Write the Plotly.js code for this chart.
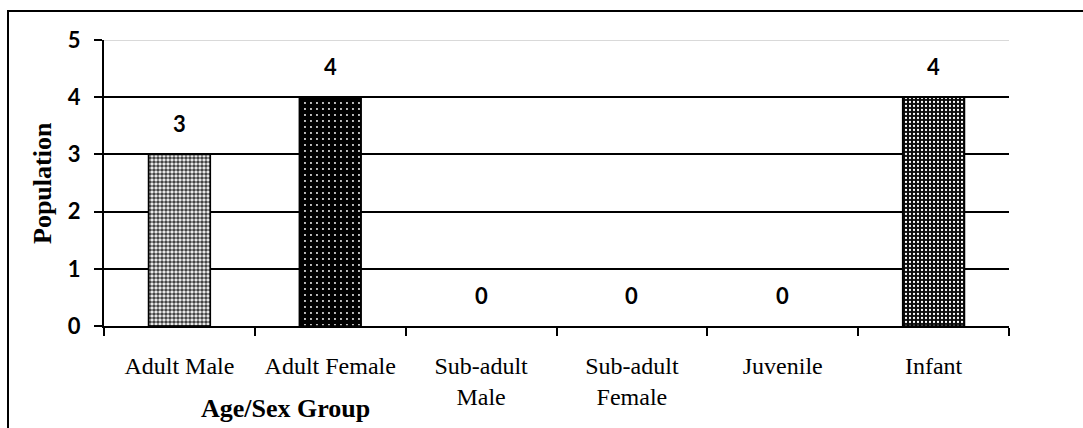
<!DOCTYPE html>
<html>
<head>
<meta charset="utf-8">
<script src="https://cdn.plot.ly/plotly-3.0.1.min.js"></script>
<style>
  html, body { margin: 0; padding: 0; background: #fff; }
  #wrap { position: relative; width: 1083px; height: 428px; overflow: hidden; }
  #frame { position: absolute; left: 7px; top: 10px; width: 1200px; height: 600px;
           border-left: 2.5px solid #000; border-top: 2.5px solid #000; pointer-events: none; }
  #chart { position: absolute; left: 0; top: 0; width: 1083px; height: 428px; }
</style>
</head>
<body>
<div id="wrap">
  <div id="chart"></div>
  <div id="frame"></div>
</div>
<script>
// Population counts by age/sex group
const groups = ['Adult Male', 'Adult Female', 'Sub-adult<br>Male', 'Sub-adult<br>Female', 'Juvenile', 'Infant'];
const population = [3, 4, 0, 0, 0, 4];
const yTicks = [0, 1, 2, 3, 4, 5];

// bar fills: base colour plus a small dot pattern on top
const barBase = ['#ffffff', '#000000', '#ffffff', '#ffffff', '#ffffff', '#0a0a0a'];
const patternShapes = ['.', '.', '', '', '', '.'];
const patternFg = ['#000000', '#e8e8e8', '#000000', '#000000', '#000000', '#9a9a9a'];
const patternSize = [4, 6, 4, 4, 4, 4];
const patternSolidity = [0.65, 0.08, 0.3, 0.3, 0.3, 0.25];
const outlineWidth = population.map(v => (v > 0 ? 1.5 : 0));

const trace = {
  type: 'bar',
  x: groups,
  y: population,
  width: 0.41,
  marker: {
    color: barBase,
    opacity: 1,
    line: { color: '#000', width: outlineWidth },
    pattern: {
      shape: patternShapes,
      fgcolor: patternFg,
      fgopacity: 1,
      size: patternSize,
      solidity: patternSolidity,
      fillmode: 'overlay'
    }
  },
  hoverinfo: 'skip'
};

// value labels above each bar
const valueLabels = groups.map((g, i) => ({
  x: g, y: population[i], xref: 'x', yref: 'y',
  text: '<b>' + population[i] + '</b>',
  showarrow: false, yanchor: 'bottom', yshift: 15,
  font: { family: 'Lato, "Open Sans", sans-serif', size: 22, color: '#000' }
}));

const layout = {
  width: 1083, height: 428,
  margin: { l: 104, r: 74, t: 40, b: 102 },
  paper_bgcolor: 'rgba(0,0,0,0)',
  plot_bgcolor: '#fff',
  showlegend: false,
  xaxis: {
    type: 'category',
    showline: true, linecolor: '#000', linewidth: 2,
    ticks: 'outside', tickson: 'boundaries', ticklen: 8, tickwidth: 2, tickcolor: '#000',
    tickfont: { family: '"Liberation Serif", "Times New Roman", serif', size: 24, color: '#000' },
    ticklabelstandoff: 17,
    showgrid: false, zeroline: false, fixedrange: true
  },
  yaxis: {
    range: [0, 5],
    tickvals: yTicks,
    showline: true, linecolor: '#000', linewidth: 2,
    ticks: 'outside', ticklen: 8, tickwidth: 2, tickcolor: '#000',
    tickfont: { family: 'Lato, "Open Sans", sans-serif', size: 22, color: '#000', weight: 'bold' },
    ticklabelstandoff: 9,
    showgrid: true, gridcolor: '#000', gridwidth: 2,
    zeroline: false, fixedrange: true
  },
  shapes: [
    { type: 'line', xref: 'paper', yref: 'y', x0: 0, x1: 1, y0: 5, y1: 5,
      line: { color: '#d9d9d9', width: 2 }, layer: 'above' }
  ],
  annotations: valueLabels.concat([
    { text: '<b>Age/Sex Group</b>', xref: 'paper', yref: 'paper', x: 0, y: 0,
      xanchor: 'center', yanchor: 'middle', showarrow: false,
      xshift: 181, yshift: -82,
      font: { family: '"Liberation Serif", "Times New Roman", serif', size: 26, color: '#000' } },
    { text: '<b>Population</b>', xref: 'paper', yref: 'paper', x: 0, y: 0.5,
      xanchor: 'center', yanchor: 'middle', showarrow: false, textangle: -90,
      xshift: -62, yshift: 0,
      font: { family: '"Liberation Serif", "Times New Roman", serif', size: 26, color: '#000' } }
  ])
};

Plotly.newPlot('chart', [trace], layout, { displayModeBar: false, staticPlot: true });
</script>
</body>
</html>
